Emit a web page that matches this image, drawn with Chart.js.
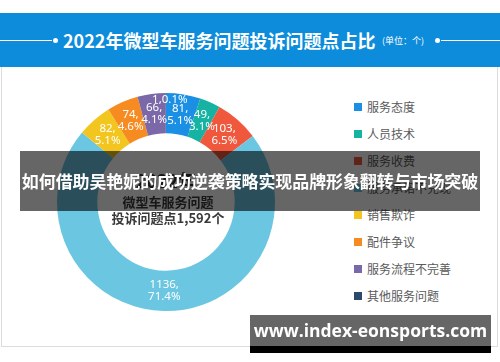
<!DOCTYPE html>
<html>
<head>
<meta charset="utf-8">
<script src="https://cdn.jsdelivr.net/npm/chart.js@4/dist/chart.umd.min.js"></script>
<style>
  html,body{margin:0;padding:0;background:#fff;}
  body{width:500px;height:362px;position:relative;overflow:hidden;font-family:"Noto Sans CJK SC","Noto Sans",sans-serif;}
  #header{position:absolute;left:0;top:13px;width:500px;height:54px;background:#0c8cdb;}
  #header .line{position:absolute;top:27px;height:1px;background:#fff;}
  #header .dot{position:absolute;top:25px;width:5px;height:5px;border-radius:50%;background:#fff;}
  #title{position:absolute;left:63px;top:14px;color:#fff;font-weight:700;font-size:18px;line-height:26px;white-space:nowrap;}
  #unit{position:absolute;left:382px;top:19px;color:#fff;font-size:9px;line-height:18px;white-space:nowrap;}
  #frame{position:absolute;left:1px;top:67px;width:495px;height:279px;border-left:1px solid #dcdcdc;border-right:1px solid #dcdcdc;border-bottom:1px solid #dcdcdc;}
  #chartBox{position:absolute;left:46px;top:82px;width:240px;height:240px;}
  #legend{position:absolute;left:354px;top:99px;}
  #legend .item{height:27px;line-height:16px;font-size:12px;color:#5a5a5a;white-space:nowrap;position:relative;padding-left:13px;}
  #legend .sw{position:absolute;left:0;top:4px;width:8px;height:8px;}
  #banner{position:absolute;left:20px;top:151px;width:460px;height:60px;background:rgba(0,0,0,0.6);color:#fff;font-weight:700;font-size:17px;line-height:60px;text-align:center;white-space:nowrap;letter-spacing:-0.1px;}
  #wm{position:absolute;left:250px;top:315px;width:241px;height:31px;background:rgba(0,0,0,0.6);color:#fff;font-family:"Open Sans","DejaVu Sans",sans-serif;font-weight:700;font-size:17.5px;line-height:31px;text-align:center;white-space:nowrap;}
  #wmStrip{position:absolute;left:250px;top:346px;width:241px;height:7px;background:#000;}
</style>
</head>
<body>
<div id="header">
  <div class="line" style="left:0;width:52px;"></div>
  <div class="dot" style="left:53px;"></div>
  <div id="title">2022年微型车服务问题投诉问题点占比</div>
  <div id="unit">(单位：个)</div>
  <div class="dot" style="left:435px;"></div>
  <div class="line" style="left:441px;width:59px;"></div>
</div>
<div id="frame"></div>
<div id="chartBox"><canvas id="c"></canvas></div>
<div id="legend"></div>
<div id="banner">如何借助吴艳妮的成功逆袭策略实现品牌形象翻转与市场突破</div>
<div id="wm">www.index-eonsports.com</div>
<div id="wmStrip"></div>
<script>
const categories = ['服务态度','人员技术','服务收费','服务承诺不兑现','销售欺诈','配件争议','服务流程不完善','其他服务问题'];
const counts = [81, 49, 103, 1136, 82, 74, 66, 1];
const percents = ['5.1%','3.1%','6.5%','71.4%','5.1%','4.6%','4.1%','0.1%'];
const colors = ['#1a8fe3','#16b2a2','#f0583d','#6bc6e2','#f2c61f','#f68b21','#7a68a9','#2e4a6b'];
const legendColors = ['#1a8fe3','#16b2a2','#f0583d','#6bc6e2','#f2c61f','#f68b21','#7a68a9','#2e4a6b'];
const centerLines = ['2022年','微型车服务问题','投诉问题点1,592个'];

// HTML legend built from arrays
const lg = document.getElementById('legend');
categories.forEach((c,i)=>{
  const d = document.createElement('div'); d.className='item';
  const s = document.createElement('span'); s.className='sw'; s.style.background = legendColors[i];
  d.appendChild(s); d.appendChild(document.createTextNode(c)); lg.appendChild(d);
});

const sliceLabels = {
  id:'sliceLabels',
  afterDatasetsDraw(chart){
    const ctx = chart.ctx;
    const meta = chart.getDatasetMeta(0);
    ctx.save();
    ctx.fillStyle = '#fff';
    ctx.textAlign = 'center';
    ctx.textBaseline = 'middle';
    ctx.font = '11.5px "Noto Sans","Noto Sans CJK SC",sans-serif';
    meta.data.forEach((arc,i)=>{
      const p = arc.getProps(['x','y','startAngle','endAngle','innerRadius','outerRadius'], true);
      if (parseFloat(percents[i]) < 1) {
        const a = (p.startAngle + p.endAngle)/2;
        const r = p.outerRadius - 7;
        ctx.fillText(counts[i] + ',' + percents[i], p.x + Math.cos(a)*r + 4, p.y + Math.sin(a)*r);
      } else {
        const pos = arc.tooltipPosition(true);
        ctx.fillText(counts[i] + ',', pos.x, pos.y - 6);
        ctx.fillText(percents[i], pos.x, pos.y + 6);
      }
    });
    ctx.restore();
  }
};
const centerText = {
  id:'centerText',
  afterDraw(chart){
    const ctx = chart.ctx;
    const a = chart.chartArea;
    const cx = (a.left + a.right)/2, cy = (a.top + a.bottom)/2;
    ctx.save();
    ctx.textAlign='center'; ctx.textBaseline='middle';
    ctx.fillStyle='#333';
    ctx.font='bold 18px "Noto Sans CJK SC",sans-serif';
    ctx.fillText(centerLines[0], cx, cy - 21);
    ctx.fillStyle='#3a3a3a';
    ctx.font='bold 13px "Noto Sans CJK SC",sans-serif';
    ctx.fillText(centerLines[1], cx + 2, cy);
    ctx.fillText(centerLines[2], cx + 2, cy + 16);
    ctx.restore();
  }
};

new Chart(document.getElementById('c'), {
  type:'doughnut',
  data:{
    labels: categories,
    datasets:[{ data: counts, backgroundColor: colors, borderWidth: 0 }]
  },
  options:{
    responsive:true,
    maintainAspectRatio:false,
    animation:false,
    cutout:'63%',
    layout:{padding:11},
    plugins:{ legend:{display:false}, tooltip:{enabled:false} }
  },
  plugins:[sliceLabels, centerText]
});
</script>
</body>
</html>
